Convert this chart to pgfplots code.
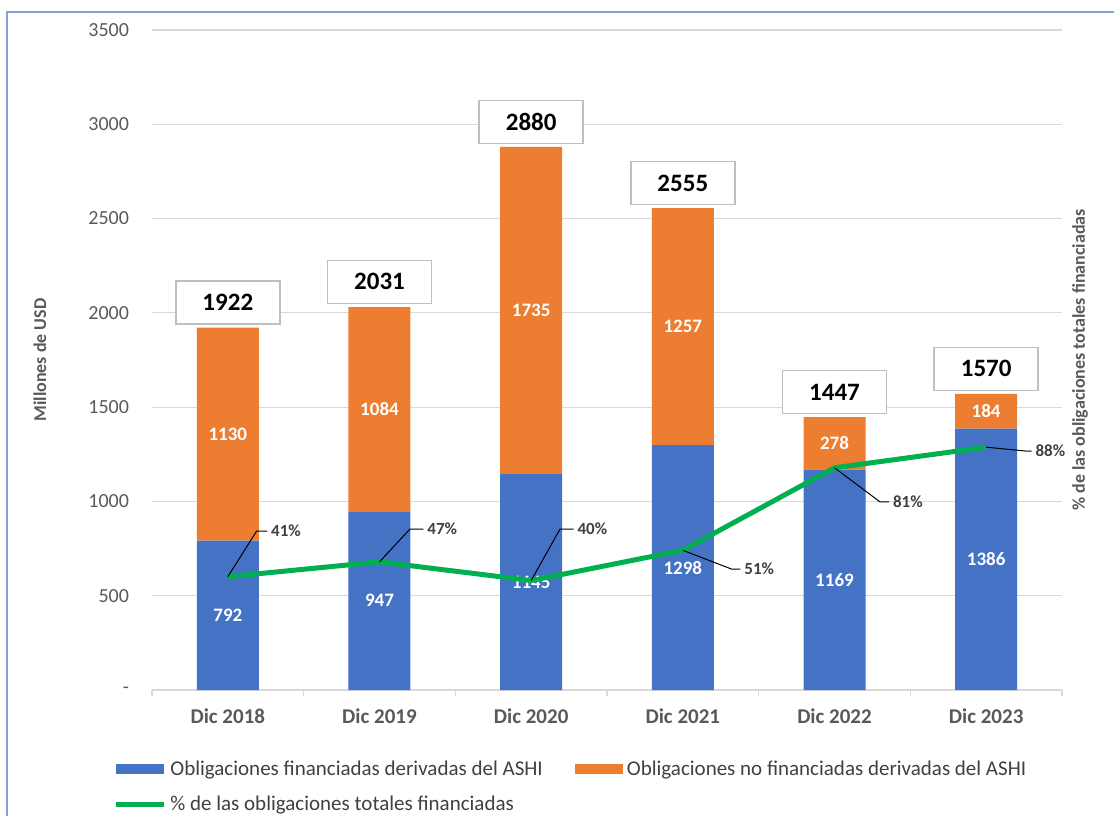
\documentclass[border=0pt]{standalone}
\usepackage{pgfplots}
\pgfplotsset{compat=1.18}
\usepackage{pgfplotstable}
\usepackage{fontspec}
\setmainfont{Carlito}

\definecolor{cblue}{HTML}{4472C4}
\definecolor{corange}{HTML}{ED7D31}
\definecolor{cgreen}{HTML}{00B050}
\definecolor{gridgray}{HTML}{D9D9D9}
\definecolor{textgray}{HTML}{595959}
\definecolor{pctgray}{HTML}{404040}
\definecolor{boxgray}{HTML}{BFBFBF}
\definecolor{frameblue}{HTML}{7FA3D6}

% values in millions of USD; pct = share of financed obligations
\pgfplotstableread{
x fin nofin tot pct
0 792 1130 1922 41.2
1 947 1084 2031 46.6
2 1145 1735 2880 39.8
3 1298 1257 2555 50.8
4 1169 278 1447 80.8
5 1386 184 1570 88.3
}\datatab

\begin{document}
\begin{tikzpicture}
\path[use as bounding box] (-76pt,-62.5pt) rectangle (481pt,345pt);
\draw[frameblue, line width=0.8pt] (-72.5pt,-70pt) -- (-72.5pt,339pt) -- (490pt,339pt);

\begin{axis}[
  width=455pt, height=330pt, scale only axis,
  ybar stacked, bar width=31pt,
  xmin=-0.5, xmax=5.5, ymin=0, ymax=3500,
  xtick={0,...,5},
  xticklabels={Dic 2018,Dic 2019,Dic 2020,Dic 2021,Dic 2022,Dic 2023},
  ytick={0,500,...,3500},
  yticklabels={{-\hspace{3pt}},500,1000,1500,2000,2500,3000,3500},
  ymajorgrids, grid style={color=gridgray, line width=0.6pt},
  axis x line*=bottom, axis y line*=left,
  x axis line style={color=gridgray, line width=0.6pt, -},
  y axis line style={draw=none},
  major tick length=0pt,
  extra x ticks={-0.5,0.5,...,5.5}, extra x tick labels={},
  extra x tick style={major tick length=3pt, tick align=outside,
    tick style={color=gridgray, line width=0.6pt}},
  tick label style={font=\fontsize{10}{12}\selectfont, text=textgray},
  xticklabel style={font=\bfseries\fontsize{10.5}{12}\selectfont, yshift=-6pt},
  yticklabel style={xshift=-8pt},
  ylabel={Millones de USD},
  every axis y label/.style={at={(axis description cs:0,0.5)}, xshift=-56pt,
    rotate=90, anchor=center, font=\bfseries\fontsize{9}{11}\selectfont, text=textgray},
  legend style={at={(axis description cs:-0.0495,-0.094)}, anchor=north west,
    draw=none, fill=none, font=\fontsize{10.5}{12}\selectfont, text=pctgray,
    legend columns=2, row sep=5pt,
    /tikz/every even column/.append style={column sep=14pt}},
  legend cell align=left,
  nodes near coords, point meta=explicit symbolic,
  every node near coord/.append style={anchor=center,
    text=white, font=\bfseries\fontsize{9.5}{11}\selectfont},
]
\addplot[fill=cblue, draw=none,
  legend image code/.code={\fill[cblue] (0pt,-2.5pt) rectangle (24pt,2.5pt);}]
  table[x=x, y=fin, meta=fin]{\datatab};
\addlegendentry{Obligaciones financiadas derivadas del ASHI}
\addplot[fill=corange, draw=none,
  legend image code/.code={\fill[corange] (0pt,-2.5pt) rectangle (24pt,2.5pt);}]
  table[x=x, y=nofin, meta=nofin]{\datatab};
\addlegendentry{Obligaciones no financiadas derivadas del ASHI}
\addlegendimage{legend image code/.code={\draw[cgreen, line width=2.5pt] (0pt,0pt) -- (24pt,0pt);}}
\addlegendentry{\% de las obligaciones totales financiadas}
\end{axis}

% totals above the bars
\begin{axis}[
  width=455pt, height=330pt, scale only axis,
  xmin=-0.5, xmax=5.5, ymin=0, ymax=3500, hide axis,
]
\addplot[draw=none, mark=none, nodes near coords, point meta=explicit symbolic,
  every node near coord/.append style={anchor=south, yshift=1.5pt,
    draw=boxgray, line width=0.7pt, fill=white, minimum width=52pt, minimum height=21.5pt,
    text=black, font=\bfseries\fontsize{12.5}{14}\selectfont}]
  table[x=x, y=tot, meta=tot]{\datatab};
\end{axis}

\begin{axis}[
  width=455pt, height=330pt, scale only axis,
  xmin=-0.5, xmax=5.5, ymin=0, ymax=240,
  hide x axis, axis y line*=right, y axis line style={draw=none},
  ytick=\empty,
  ylabel={\% de las obligaciones totales financiadas},
  every axis y label/.style={at={(axis description cs:1,0.5)}, xshift=9pt,
    rotate=90, anchor=center, font=\bfseries\fontsize{9}{11}\selectfont, text=textgray},
]
\addplot[cgreen, line width=2.5pt, mark=none, line join=round] table[x=x, y=pct]{\datatab};
\addplot[black, line width=0.5pt] coordinates {(0,41.2) (0.19,57.8) (0.26,57.8)};
\addplot[black, line width=0.5pt] coordinates {(1,46.6) (1.20,58.5) (1.29,58.5)};
\addplot[black, line width=0.5pt] coordinates {(2,39.8) (2.19,58.5) (2.28,58.5)};
\addplot[black, line width=0.5pt] coordinates {(3,50.8) (3.32,44.0) (3.38,44.0)};
\addplot[black, line width=0.5pt] coordinates {(4,80.8) (4.30,68.4) (4.36,68.4)};
\addplot[black, line width=0.5pt] coordinates {(5,88.3) (5.26,86.9) (5.30,86.9)};
\addplot[draw=none, mark=none, nodes near coords, point meta=explicit symbolic,
  every node near coord/.append style={anchor=west, inner sep=1pt,
    text=pctgray, font=\bfseries\fontsize{8.5}{10}\selectfont}]
  coordinates {(0.27,57.8) [41\%] (1.30,58.5) [47\%] (2.29,58.5) [40\%]
    (3.39,44.0) [51\%] (4.37,68.4) [81\%] (5.31,86.9) [88\%]};
\end{axis}
\end{tikzpicture}
\end{document}
